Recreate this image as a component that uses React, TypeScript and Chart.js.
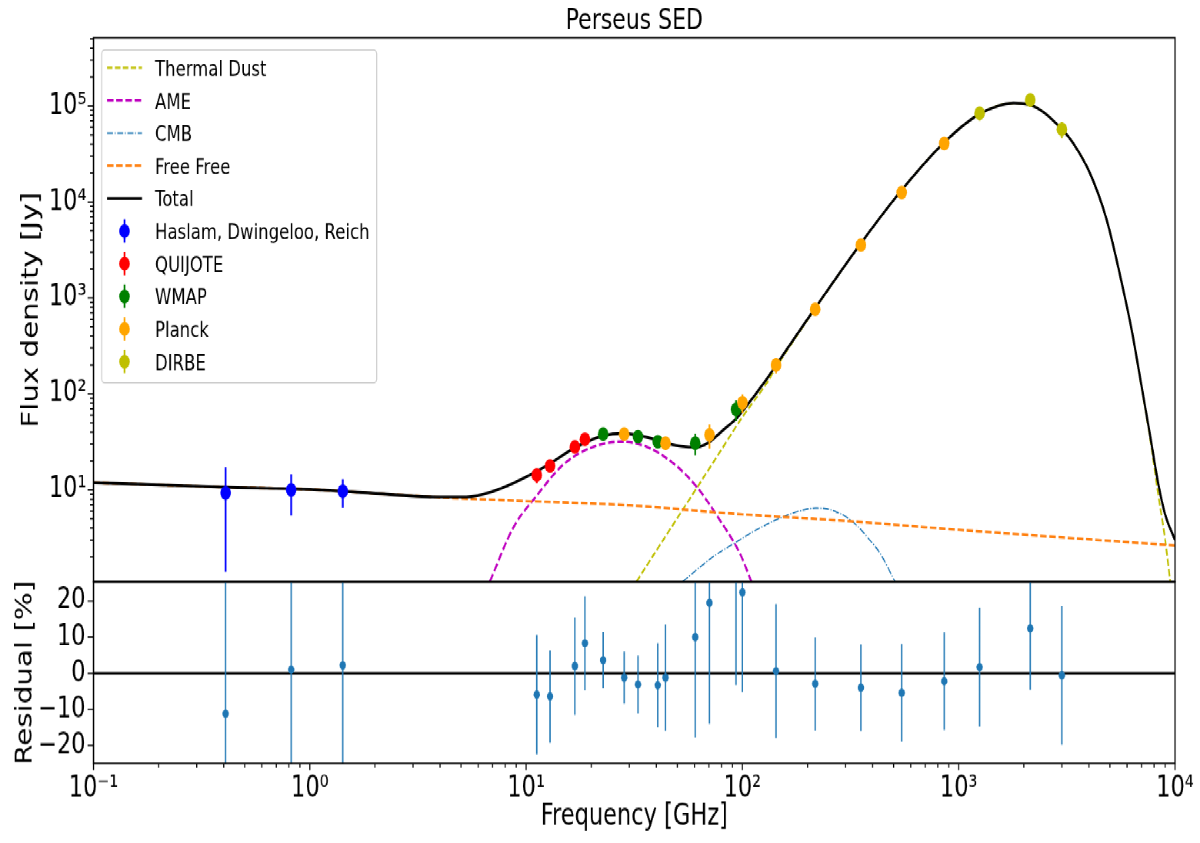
import React, { useEffect, useRef } from 'react';
import { Chart, registerables } from 'chart.js';

Chart.register(...registerables);
Chart.defaults.font.family = "'DejaVu Sans', sans-serif";
Chart.defaults.color = '#000';

// ================= data =================
const TITLE = 'Perseus SED';
const X_LABEL = 'Frequency [GHz]';
const Y_LABEL = 'Flux density [Jy]';
const R_LABEL = 'Residual [%]';

const X_RANGE = [0.1, 10000];
const Y_RANGE = [1.1, 5.13e5];
const R_RANGE = [-25, 25.3];

const X_TICKS = [0.1, 1, 10, 100, 1000, 10000];
const X_TICK_LABELS = ['10⁻¹', '10⁰', '10¹', '10²', '10³', '10⁴'];
const Y_TICKS = [10, 100, 1000, 10000, 100000];
const Y_TICK_LABELS = ['10¹', '10²', '10³', '10⁴', '10⁵'];
const R_TICKS = [-20, -10, 0, 10, 20];
const R_TICK_LABELS = ['−20', '−10', '0', '10', '20'];

// model components
const DUST_FREQ = [32.4, 40, 50, 61.4, 80, 100, 129, 143, 217, 353, 545, 857, 1250, 1790, 2141, 2998, 3387, 4046, 4834, 5768, 6307, 6887, 7665, 8372, 8990, 9500];
const DUST_FLUX = [1.11, 2.33, 5.08, 10.4, 26.3, 57.5, 128, 188, 773, 3700, 13290, 41700, 82600, 107000, 102700, 57500, 40740, 19860, 6470, 1204, 459, 147, 34.5, 8.8, 3.1, 1.11];

const AME_FREQ = [6.8, 8.7, 11.1, 14.8, 19.7, 27.5, 36, 47.8, 61.4, 78.5, 97.2, 110];
const AME_FLUX = [1.11, 4.0, 8.5, 18.2, 27.2, 31.8, 28.2, 19.0, 10.8, 4.87, 2.19, 1.11];

const CMB_FREQ = [53, 73, 91, 125, 166, 190, 218, 245, 270, 303, 340, 388, 432, 507];
const CMB_FLUX = [1.11, 2.0, 2.75, 4.2, 5.6, 6.15, 6.45, 6.35, 5.95, 5.2, 4.2, 3.0, 2.2, 1.11];

const FF_FREQ = [0.1, 0.4, 1, 2.3, 3.8, 6.1, 11.6, 30, 100, 300, 1000, 3000, 10000];
const FF_FLUX = [11.9, 10.7, 10.1, 9.0, 8.4, 8.0, 7.55, 6.9, 5.56, 4.75, 3.83, 3.2, 2.63];

const TOTAL_FREQ = [0.1, 0.2, 0.4, 1, 2.3, 3.8, 5.3, 7.0, 8.7, 10.8, 12.9, 16.8, 18.7, 22.7, 28, 33, 40.5, 44, 52, 61, 70, 80, 94, 100, 129, 143, 217, 353, 545, 857, 1250, 1790, 2141, 2998, 3387, 4046, 4834, 5768, 6307, 6887, 7665, 8372, 8990, 10000];
const TOTAL_FLUX = [11.9, 11.3, 10.7, 10.1, 9.0, 8.45, 8.45, 9.6, 11.7, 14.9, 18.8, 27.5, 31, 36.7, 38.8, 37, 32.9, 31, 28.5, 27.8, 31.3, 40.5, 56, 66, 141, 199, 785, 3710, 13300, 41700, 82600, 107000, 102700, 57500, 40740, 19860, 6476, 1207, 462, 150, 37.2, 11.5, 5.6, 3.0];

// measured flux densities
const HASLAM_FREQ = [0.408, 0.82, 1.42];
const HASLAM_FLUX = [9.3, 10.0, 9.7];
const HASLAM_ERR = [7.9, 4.6, 3.2];

const QUIJOTE_FREQ = [11.2, 12.9, 16.8, 18.7];
const QUIJOTE_FLUX = [14.3, 17.8, 28, 33.7];
const QUIJOTE_ERR = [2.5, 2.4, 3.7, 4.0];

const WMAP_FREQ = [22.7, 32.9, 40.6, 60.5, 93.4];
const WMAP_FLUX = [38, 35.9, 31.8, 30.6, 69];
const WMAP_ERR = [2.9, 3.0, 3.8, 7.7, 17];

const PLANCK_FREQ = [28.4, 44.1, 70.4, 100, 143, 217, 353, 545, 857];
const PLANCK_FLUX = [38, 30.6, 37.4, 81, 200, 762, 3565, 12600, 40800];
const PLANCK_ERR = [2.8, 4.6, 10.5, 18, 37, 101, 445, 1800, 5630];

const DIRBE_FREQ = [1249, 2141, 2998];
const DIRBE_FLUX = [84000, 115500, 57200];
const DIRBE_ERR = [13500, 18000, 11000];

// residuals [%]
const RES_FREQ = [0.408, 0.82, 1.42, 11.2, 12.9, 16.8, 18.7, 22.7, 28.4, 32.9, 40.6, 44.1, 60.5, 70.4, 93.4, 100, 143, 217, 353, 545, 857, 1249, 2141, 2998];
const RES_VAL = [-11.2, 1.0, 2.2, -5.9, -6.4, 2.0, 8.3, 3.6, -1.2, -3.1, -3.3, -1.2, 10.0, 19.5, 30.0, 22.4, 0.6, -2.9, -4.0, -5.4, -2.2, 1.7, 12.4, -0.6];
const RES_ERR = [85, 47, 36, 16.5, 12.8, 13.5, 13, 7.8, 7.2, 8, 11.7, 14.7, 27.8, 33.5, 33.3, 27.6, 18.6, 12.9, 12, 13.5, 13.5, 16.4, 17, 19.2];

const ZERO_FREQ = [0.1, 10000];
const ZERO_VAL = [0, 0];

// ================= layout (CSS px, before vertical stretch) =================
const STRETCH = 1.3;
const PAGE_W = 1200;
const PAGE_H = 843;
const INNER_H = PAGE_H / STRETCH;
const PLOT_LEFT = 93.5;
const PLOT_RIGHT_PAD = PAGE_W - 1175;
const TOP_AREA_TOP = 37.8 / STRETCH;
const SPLIT = 581.8 / STRETCH;
const BOT_AREA_BOTTOM = 763 / STRETCH;
const TOP_CANVAS_H = 460;
const BOT_CANVAS_TOP = 440;
const BOT_CANVAS_H = INNER_H - BOT_CANVAS_TOP;
const FONT_TICK = 22.5;

const zip = (xs: number[], ys: number[]) => xs.map((x, i) => ({ x, y: ys[i] }));

function minorLogTicks(min: number, max: number) {
  const out: number[] = [];
  for (let e = Math.floor(Math.log10(min)); e <= Math.ceil(Math.log10(max)); e++) {
    for (let m = 2; m <= 9; m++) {
      const v = m * Math.pow(10, e);
      if (v > min && v < max) out.push(v);
    }
  }
  return out;
}

const axisFramePlugin = {
  id: 'axisFrame',
  afterDraw(chart: any, _args: any, opts: any) {
    const { ctx, chartArea: a } = chart;
    const xs = chart.scales.x;
    const ys = chart.scales.y;
    ctx.save();
    ctx.strokeStyle = '#000';
    ctx.lineWidth = 1.1;
    ctx.setLineDash([]);
    ctx.beginPath();
    (opts.xMajor || []).forEach((v: number) => {
      const p = xs.getPixelForValue(v);
      ctx.moveTo(p, a.bottom);
      ctx.lineTo(p, a.bottom + 5);
    });
    (opts.xMinor || []).forEach((v: number) => {
      const p = xs.getPixelForValue(v);
      ctx.moveTo(p, a.bottom);
      ctx.lineTo(p, a.bottom + 3);
    });
    (opts.yMajor || []).forEach((v: number) => {
      const p = ys.getPixelForValue(v);
      ctx.moveTo(a.left, p);
      ctx.lineTo(a.left - 6, p);
    });
    (opts.yMinor || []).forEach((v: number) => {
      const p = ys.getPixelForValue(v);
      ctx.moveTo(a.left, p);
      ctx.lineTo(a.left - 3.5, p);
    });
    ctx.stroke();
    ctx.lineWidth = 1.3;
    ctx.strokeRect(a.left, a.top, a.right - a.left, a.bottom - a.top);
    ctx.restore();
  },
};

const errorBarPlugin = {
  id: 'errorBars',
  beforeDatasetDraw(chart: any, args: any) {
    const ds = chart.data.datasets[args.index];
    if (!ds.errors) return;
    const { ctx, chartArea: a } = chart;
    const xs = chart.scales[args.meta.xAxisID];
    const ys = chart.scales[args.meta.yAxisID];
    ctx.save();
    ctx.beginPath();
    ctx.rect(a.left, a.top, a.right - a.left, a.bottom - a.top);
    ctx.clip();
    ctx.strokeStyle = ds.errorColor;
    ctx.lineWidth = ds.errorWidth;
    ctx.setLineDash([]);
    ctx.beginPath();
    ds.data.forEach((pt: any, i: number) => {
      const e = ds.errors[i];
      const px = xs.getPixelForValue(pt.x);
      const pTop = ys.getPixelForValue(pt.y + e);
      const lo = pt.y - e;
      const pBot = ys.type === 'logarithmic' && lo <= 0 ? a.bottom + 20 : ys.getPixelForValue(lo);
      ctx.moveTo(px, pTop);
      ctx.lineTo(px, pBot);
    });
    ctx.stroke();
    ctx.restore();
  },
};

const legendPlugin = {
  id: 'boxLegend',
  afterDraw(chart: any) {
    const { ctx } = chart;
    const items = chart.data.datasets.filter((d: any) => d.label);
    const x0 = 101.7;
    const y0 = 50 / STRETCH;
    const w = 275;
    const h = (382.7 - 50) / STRETCH;
    ctx.save();
    ctx.beginPath();
    ctx.roundRect(x0, y0, w, h, 3);
    ctx.fillStyle = 'rgba(255,255,255,0.8)';
    ctx.fill();
    ctx.strokeStyle = '#cccccc';
    ctx.lineWidth = 1;
    ctx.stroke();
    const firstY = 67.7 / STRETCH;
    const textShift = 2.0;
    const step = 25.12;
    ctx.font = "16.5px 'DejaVu Sans', sans-serif";
    ctx.textBaseline = 'middle';
    ctx.textAlign = 'left';
    items.forEach((d: any, i: number) => {
      const cy = firstY + i * step;
      if (d.errors) {
        ctx.setLineDash([]);
        ctx.strokeStyle = d.errorColor;
        ctx.lineWidth = d.errorWidth;
        ctx.beginPath();
        ctx.moveTo(124.5, cy - 9);
        ctx.lineTo(124.5, cy + 9);
        ctx.stroke();
        ctx.fillStyle = d.pointBackgroundColor;
        ctx.beginPath();
        ctx.arc(124.5, cy, d.pointRadius, 0, Math.PI * 2);
        ctx.fill();
      } else {
        ctx.setLineDash(d.borderDash || []);
        ctx.strokeStyle = d.borderColor;
        ctx.lineWidth = d.borderWidth;
        ctx.beginPath();
        ctx.moveTo(107, cy);
        ctx.lineTo(142, cy);
        ctx.stroke();
      }
      ctx.setLineDash([]);
      ctx.fillStyle = '#000';
      ctx.fillText(d.label, 155, cy + textShift);
    });
    ctx.restore();
  },
};

function lineSet(label: string, xs: number[], ys: number[], color: string, width: number, dash: number[], order: number) {
  return {
    label,
    data: zip(xs, ys),
    borderColor: color,
    borderWidth: width,
    borderDash: dash,
    pointRadius: 0,
    pointHoverRadius: 0,
    fill: false,
    showLine: true,
    cubicInterpolationMode: 'monotone',
    order,
  };
}

function pointSet(label: string, xs: number[], ys: number[], errs: number[], color: string, radius: number, errWidth: number, order: number) {
  return {
    label,
    data: zip(xs, ys),
    errors: errs,
    errorColor: color,
    errorWidth: errWidth,
    showLine: false,
    pointRadius: radius,
    pointHoverRadius: radius,
    pointBorderWidth: 0,
    pointBackgroundColor: color,
    borderColor: color,
    backgroundColor: color,
    order,
  };
}

export default function App() {
  const topRef = useRef<HTMLCanvasElement>(null);
  const botRef = useRef<HTMLCanvasElement>(null);

  useEffect(() => {
    const tickFont = { size: FONT_TICK };
    const topChart = new Chart(topRef.current as HTMLCanvasElement, {
      type: 'line',
      data: {
        datasets: [
          lineSet('Thermal Dust', DUST_FREQ, DUST_FLUX, '#bfbf00', 1.7, [5.5, 2.4], 9),
          lineSet('AME', AME_FREQ, AME_FLUX, '#bf00bf', 2, [6.5, 2.7], 8),
          lineSet('CMB', CMB_FREQ, CMB_FLUX, '#1f77b4', 1.1, [6, 1.6, 1, 1.6], 7),
          lineSet('Free Free', FF_FREQ, FF_FLUX, '#ff7f0e', 2, [6.5, 2.7], 6),
          lineSet('Total', TOTAL_FREQ, TOTAL_FLUX, '#000000', 2.2, [], 5),
          pointSet('Haslam, Dwingeloo, Reich', HASLAM_FREQ, HASLAM_FLUX, HASLAM_ERR, '#0000ff', 5.3, 1.8, 4),
          pointSet('QUIJOTE', QUIJOTE_FREQ, QUIJOTE_FLUX, QUIJOTE_ERR, '#ff0000', 5.3, 1.8, 3),
          pointSet('WMAP', WMAP_FREQ, WMAP_FLUX, WMAP_ERR, '#008000', 5.3, 1.8, 2),
          pointSet('Planck', PLANCK_FREQ, PLANCK_FLUX, PLANCK_ERR, '#ffa500', 5.3, 1.8, 1),
          pointSet('DIRBE', DIRBE_FREQ, DIRBE_FLUX, DIRBE_ERR, '#bfbf00', 5.3, 1.8, 0),
        ] as any,
      },
      options: {
        animation: false,
        responsive: true,
        maintainAspectRatio: false,
        devicePixelRatio: STRETCH,
        events: [],
        layout: { padding: { left: 0, right: PLOT_RIGHT_PAD, top: 0, bottom: TOP_CANVAS_H - SPLIT } },
        plugins: {
          legend: { display: false },
          tooltip: { enabled: false },
          title: {
            display: true,
            text: TITLE,
            fullSize: false,
            color: '#000',
            font: { size: 22, weight: 'normal', lineHeight: 1.0 },
            padding: { top: 5.7, bottom: TOP_AREA_TOP - 22 - 5.7 },
          },
          axisFrame: {
            yMajor: Y_TICKS,
            yMinor: minorLogTicks(Y_RANGE[0], Y_RANGE[1]),
          },
        } as any,
        scales: {
          x: {
            type: 'logarithmic',
            display: false,
            min: X_RANGE[0],
            max: X_RANGE[1],
          },
          y: {
            type: 'logarithmic',
            min: Y_RANGE[0],
            max: Y_RANGE[1],
            afterBuildTicks: (s: any) => {
              s.ticks = Y_TICKS.map((v) => ({ value: v }));
            },
            afterFit: (s: any) => {
              s.width = PLOT_LEFT;
              s.paddingTop = 0;
              s.paddingBottom = 0;
            },
            ticks: {
              callback: (_v: any, i: number) => Y_TICK_LABELS[i],
              autoSkip: false,
              padding: 7,
              font: tickFont,
              color: '#000',
            },
            grid: { display: false, drawTicks: false },
            border: { display: false },
            title: {
              display: true,
              text: Y_LABEL,
              color: '#000',
              font: { size: FONT_TICK },
              padding: { top: 18, bottom: 0 },
            },
          },
        } as any,
      },
      plugins: [errorBarPlugin, axisFramePlugin, legendPlugin],
    });

    const botChart = new Chart(botRef.current as HTMLCanvasElement, {
      type: 'line',
      data: {
        datasets: [
          lineSet('', ZERO_FREQ, ZERO_VAL, '#000000', 1.8, [], 1),
          pointSet('', RES_FREQ, RES_VAL, RES_ERR, '#1f77b4', 3.2, 1.4, 0),
        ] as any,
      },
      options: {
        animation: false,
        responsive: true,
        maintainAspectRatio: false,
        devicePixelRatio: STRETCH,
        events: [],
        layout: { padding: { left: 0, right: PLOT_RIGHT_PAD, top: SPLIT - BOT_CANVAS_TOP, bottom: 0 } },
        plugins: {
          legend: { display: false },
          tooltip: { enabled: false },
          axisFrame: {
            xMajor: X_TICKS,
            xMinor: minorLogTicks(X_RANGE[0], X_RANGE[1]),
            yMajor: R_TICKS,
          },
        } as any,
        scales: {
          x: {
            type: 'logarithmic',
            min: X_RANGE[0],
            max: X_RANGE[1],
            afterBuildTicks: (s: any) => {
              s.ticks = X_TICKS.map((v) => ({ value: v }));
            },
            afterFit: (s: any) => {
              s.height = BOT_CANVAS_H - (BOT_AREA_BOTTOM - BOT_CANVAS_TOP);
              s.paddingLeft = 0;
              s.paddingRight = 0;
            },
            ticks: {
              callback: (_v: any, i: number) => X_TICK_LABELS[i],
              autoSkip: false,
              maxRotation: 0,
              minRotation: 0,
              padding: 6,
              font: tickFont,
              color: '#000',
            },
            grid: { display: false, drawTicks: false },
            border: { display: false },
            title: {
              display: true,
              text: X_LABEL,
              color: '#000',
              font: { size: FONT_TICK },
              padding: { top: 0, bottom: 6.7 },
            },
          },
          y: {
            type: 'linear',
            min: R_RANGE[0],
            max: R_RANGE[1],
            afterBuildTicks: (s: any) => {
              s.ticks = R_TICKS.map((v) => ({ value: v }));
            },
            afterFit: (s: any) => {
              s.width = PLOT_LEFT;
              s.paddingTop = 0;
              s.paddingBottom = 0;
            },
            ticks: {
              callback: (_v: any, i: number) => R_TICK_LABELS[i],
              autoSkip: false,
              padding: 8,
              font: tickFont,
              color: '#000',
            },
            grid: { display: false, drawTicks: false },
            border: { display: false },
            title: {
              display: true,
              text: R_LABEL,
              color: '#000',
              font: { size: FONT_TICK },
              padding: { top: 12, bottom: 0 },
            },
          },
        } as any,
      },
      plugins: [errorBarPlugin, axisFramePlugin],
    });

    return () => {
      topChart.destroy();
      botChart.destroy();
    };
  }, []);

  return (
    <div style={{ position: 'fixed', left: 0, top: 0, width: PAGE_W, height: PAGE_H, overflow: 'hidden', background: '#fff' }}>
      <div
        style={{
          position: 'absolute',
          left: 0,
          top: 0,
          width: PAGE_W,
          height: INNER_H,
          transform: `scaleY(${STRETCH})`,
          transformOrigin: '0 0',
        }}
      >
        <div style={{ position: 'absolute', left: 0, top: 0, width: PAGE_W, height: TOP_CANVAS_H }}>
          <canvas ref={topRef} />
        </div>
        <div style={{ position: 'absolute', left: 0, top: BOT_CANVAS_TOP, width: PAGE_W, height: BOT_CANVAS_H }}>
          <canvas ref={botRef} />
        </div>
      </div>
    </div>
  );
}
